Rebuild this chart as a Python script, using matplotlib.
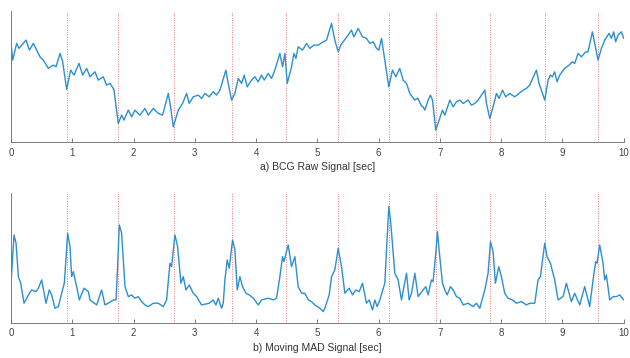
import matplotlib
matplotlib.use('Agg')
import matplotlib.pyplot as plt

plt.rcParams['font.family'] = ['Liberation Sans', 'DejaVu Sans']

# beat markers [sec]
beats = [0.91, 1.75, 2.66, 3.60, 4.49, 5.33, 6.17, 6.94, 7.82, 8.72, 9.58]

# a) BCG raw signal (arbitrary units)
raw_t = [0, 0.027, 0.092, 0.13, 0.245, 0.30, 0.364, 0.473, 0.527, 0.609, 0.69, 0.734, 0.80, 0.843,
         0.908, 0.973, 1.028, 1.109, 1.169, 1.234, 1.289, 1.37, 1.425, 1.506, 1.56, 1.615, 1.669,
         1.68, 1.751, 1.805, 1.843, 1.914, 1.968, 2.023, 2.104, 2.186, 2.24, 2.322, 2.403, 2.474,
         2.567, 2.605, 2.648, 2.73, 2.80, 2.866, 2.909, 2.974, 3.056, 3.11, 3.165, 3.235,
         3.30, 3.355, 3.41, 3.507, 3.545, 3.60, 3.654, 3.709, 3.763, 3.806, 3.855, 3.926, 3.98,
         4.035, 4.089, 4.133, 4.198, 4.252, 4.307, 4.388, 4.432, 4.47, 4.508, 4.579, 4.617, 4.65,
         4.687, 4.758, 4.823, 4.878, 4.943, 5.014, 5.095, 5.15, 5.231, 5.285, 5.34, 5.383, 5.421,
         5.503, 5.557, 5.595, 5.666, 5.737, 5.802, 5.856, 5.911, 5.965, 6.003, 6.047, 6.101,
         6.166, 6.226, 6.28, 6.345, 6.40, 6.455, 6.509, 6.591, 6.64, 6.70, 6.726, 6.754, 6.808,
         6.846, 6.879, 6.933, 6.987, 7.042, 7.08, 7.162, 7.216, 7.27, 7.325, 7.379, 7.461, 7.515,
         7.57, 7.624, 7.733, 7.76, 7.814, 7.868, 7.923, 7.966, 8.021, 8.075, 8.14, 8.222, 8.292,
         8.358, 8.412, 8.466, 8.575, 8.619, 8.711, 8.766, 8.804, 8.836, 8.874, 8.912, 8.956,
         9.037, 9.108, 9.163, 9.20, 9.255, 9.309, 9.38, 9.418, 9.489, 9.527, 9.581, 9.636, 9.69,
         9.761, 9.799, 9.837, 9.869, 9.908, 9.962, 10.0]
raw_v = [98.7, 82, 98.7, 93.7, 102, 92, 98.7, 85.3, 82, 73.7, 77, 75.3, 88.7, 80.3,
         52.7, 72, 67, 78.7, 67, 73.7, 65.3, 70.3, 62, 65.3, 57, 58.7, 53.7,
         52, 18.7, 27, 22, 32, 25.3, 32, 27, 33.7, 27, 33.7, 28.7, 27,
         48.7, 35.3, 15.3, 32, 38.7, 48.7, 38.7, 45.3, 47, 43.7, 48.7, 45.3,
         50.3, 47, 52, 72, 58.7, 42, 48.7, 63.7, 58.7, 67, 55.3, 62, 65.3,
         60.3, 67, 62, 68.7, 63.7, 72, 88.7, 75.3, 88.7, 58.7, 75.3, 88.7, 83.7,
         95.3, 92, 98.7, 93.7, 97, 97, 100.3, 102, 118.7, 102, 90.3, 97, 100.3,
         107, 112, 105.3, 113.7, 105.3, 103.7, 98.7, 100.3, 93.7, 92, 103.7, 82,
         55.3, 72, 65.3, 73.7, 62, 58.7, 48.7, 42, 44, 36, 35.3, 32, 42,
         47, 42, 12, 22, 32, 27, 42, 35.3, 40.3, 42, 38.7, 42, 37,
         38.7, 42, 52, 38.7, 23.7, 35.3, 48.7, 43.7, 52, 45.3, 48.7, 45.3, 48.7,
         52, 53.7, 57, 72, 58.7, 42, 62, 67, 65.3, 70.3, 60.3, 67,
         73.7, 77, 80.3, 78.7, 88.7, 85.3, 90.3, 90.3, 110.3, 98.7, 82, 93.7, 102,
         108.7, 103.7, 110.3, 100.3, 107, 110.3, 103.7]

# b) moving MAD signal (arbitrary units)
mad_t = [0, 0.049, 0.082, 0.12, 0.158, 0.212, 0.256, 0.299, 0.337, 0.408, 0.446, 0.50, 0.571,
         0.625, 0.663, 0.718, 0.772, 0.827, 0.87, 0.924, 0.962, 0.99, 1.017, 1.071, 1.115, 1.191,
         1.262, 1.289, 1.398, 1.479, 1.533, 1.588, 1.669, 1.713, 1.735, 1.767, 1.805, 1.86, 1.914,
         1.968, 2.023, 2.077, 2.132, 2.186, 2.24, 2.322, 2.403, 2.485, 2.539, 2.594, 2.621, 2.675,
         2.719, 2.773, 2.811, 2.855, 2.909, 2.974, 3.029, 3.11, 3.235,
         3.30, 3.344, 3.382, 3.437, 3.464, 3.491, 3.529, 3.562, 3.616, 3.654, 3.692, 3.736, 3.779,
         3.834, 3.888, 3.954, 4.035, 4.089, 4.198, 4.28, 4.334, 4.388, 4.432, 4.454, 4.524, 4.579,
         4.633, 4.687, 4.742, 4.796, 4.851, 4.905, 4.959, 5.041, 5.095, 5.122, 5.193, 5.231, 5.285,
         5.34, 5.394, 5.449, 5.52, 5.574, 5.628, 5.683, 5.737, 5.802, 5.846, 5.90, 5.938, 5.976,
         6.02, 6.101, 6.166, 6.194, 6.264, 6.318, 6.373, 6.455, 6.498, 6.537, 6.591, 6.645,
         6.726, 6.77, 6.808, 6.862, 6.889, 6.933, 6.96, 6.987, 7.042, 7.08, 7.118, 7.172, 7.216,
         7.27, 7.325, 7.379, 7.461, 7.543, 7.597, 7.651, 7.733, 7.787, 7.825, 7.868, 7.906, 7.961,
         8.004, 8.058, 8.113, 8.183, 8.249, 8.33, 8.412, 8.466, 8.548, 8.602, 8.64, 8.711, 8.749,
         8.804, 8.874, 8.929, 9.01, 9.064, 9.146, 9.20, 9.282, 9.363, 9.445, 9.50, 9.543, 9.565,
         9.608, 9.663, 9.69, 9.717, 9.772, 9.826, 9.881, 9.935, 10.0]
mad_v = [39.7, 88, 79.7, 46.3, 39.7, 19.7, 24.7, 29.7, 33, 31.3, 34.7, 43, 19.7,
         33, 28, 14.7, 16.3, 29.7, 39.7, 89.7, 76.3, 46.3, 51.3, 36.3, 23, 34.7,
         31.3, 23, 18, 33, 18, 19.7, 23, 23, 49.7, 98, 89.7, 36.3, 26.3,
         28, 24.7, 26.3, 21.3, 18, 16.3, 19.7, 19.7, 16.3, 23, 59.7, 56.3, 88,
         76.3, 39.7, 46.3, 33, 38, 29.7, 26.3, 18, 19.7,
         23, 18, 24.7, 14.7, 19.7, 43, 63, 54.7, 83, 73, 33, 46.3, 36.3,
         29.7, 28, 24.7, 18, 23, 24.7, 23, 24.7, 46.3, 66.3, 61.3, 78, 56.3,
         66.3, 36.3, 29.7, 29.7, 23, 21.3, 18, 14.7, 11.3, 14.7, 28, 46.3, 53,
         74.7, 56.3, 29.7, 34.7, 28, 33, 31.3, 39.7, 19.7, 23, 13, 23, 16.3,
         23, 39.7, 116.3, 103, 49.7, 43, 23, 49.7, 23, 29.7, 49.7, 26.3,
         33, 36.3, 28, 43, 41.3, 69.7, 91.3, 73, 39.7, 33, 28, 36.3, 33,
         26.3, 24.7, 18, 19.7, 16.3, 19.7, 14.7, 33, 49.7, 81.3, 71.3, 39.7, 56.3,
         46.3, 29.7, 24.7, 23, 19.7, 21.3, 18, 19.7, 19.7, 43, 46.3, 79.7, 66.3,
         59.7, 43, 23, 26.3, 39.7, 21.3, 29.7, 18, 36.3, 16.3, 43, 61.3, 59.7,
         78, 59.7, 43, 48, 23, 26.3, 26.3, 28, 23]

fig = plt.figure(figsize=(6.3, 3.58), dpi=100)
ax1 = fig.add_axes([0.0175, 0.603, 0.9725, 0.366])
ax2 = fig.add_axes([0.0175, 0.098, 0.9725, 0.363])

panels = [(ax1, raw_t, raw_v, 131, 'a) BCG Raw Signal [sec]'),
          (ax2, mad_t, mad_v, 130, 'b) Moving MAD Signal [sec]')]

for ax, t, v, top, label in panels:
    for b in beats:
        ax.axvline(b, color='#f07a7a', ls=(0, (1, 1.5)), lw=0.7, zorder=1)
    ax.plot(t, v, color='#2c8fcf', lw=1.0, zorder=3,
            solid_joinstyle='round', solid_capstyle='round')
    ax.set_xlim(0, 10)
    ax.set_ylim(0, top)
    ax.set_xticks(range(11))
    ax.set_yticks([])
    ax.tick_params(axis='x', direction='in', length=3, width=0.6, colors='#666666',
                   labelsize=7, pad=4, labelcolor='#444444')
    for s in ('top', 'right'):
        ax.spines[s].set_visible(False)
    for s in ('left', 'bottom'):
        ax.spines[s].set_color('#666666')
        ax.spines[s].set_linewidth(0.6)
    ax.set_xlabel(label, fontsize=7.5, color='#333333', labelpad=3)

fig.savefig('out.png', dpi=100)
